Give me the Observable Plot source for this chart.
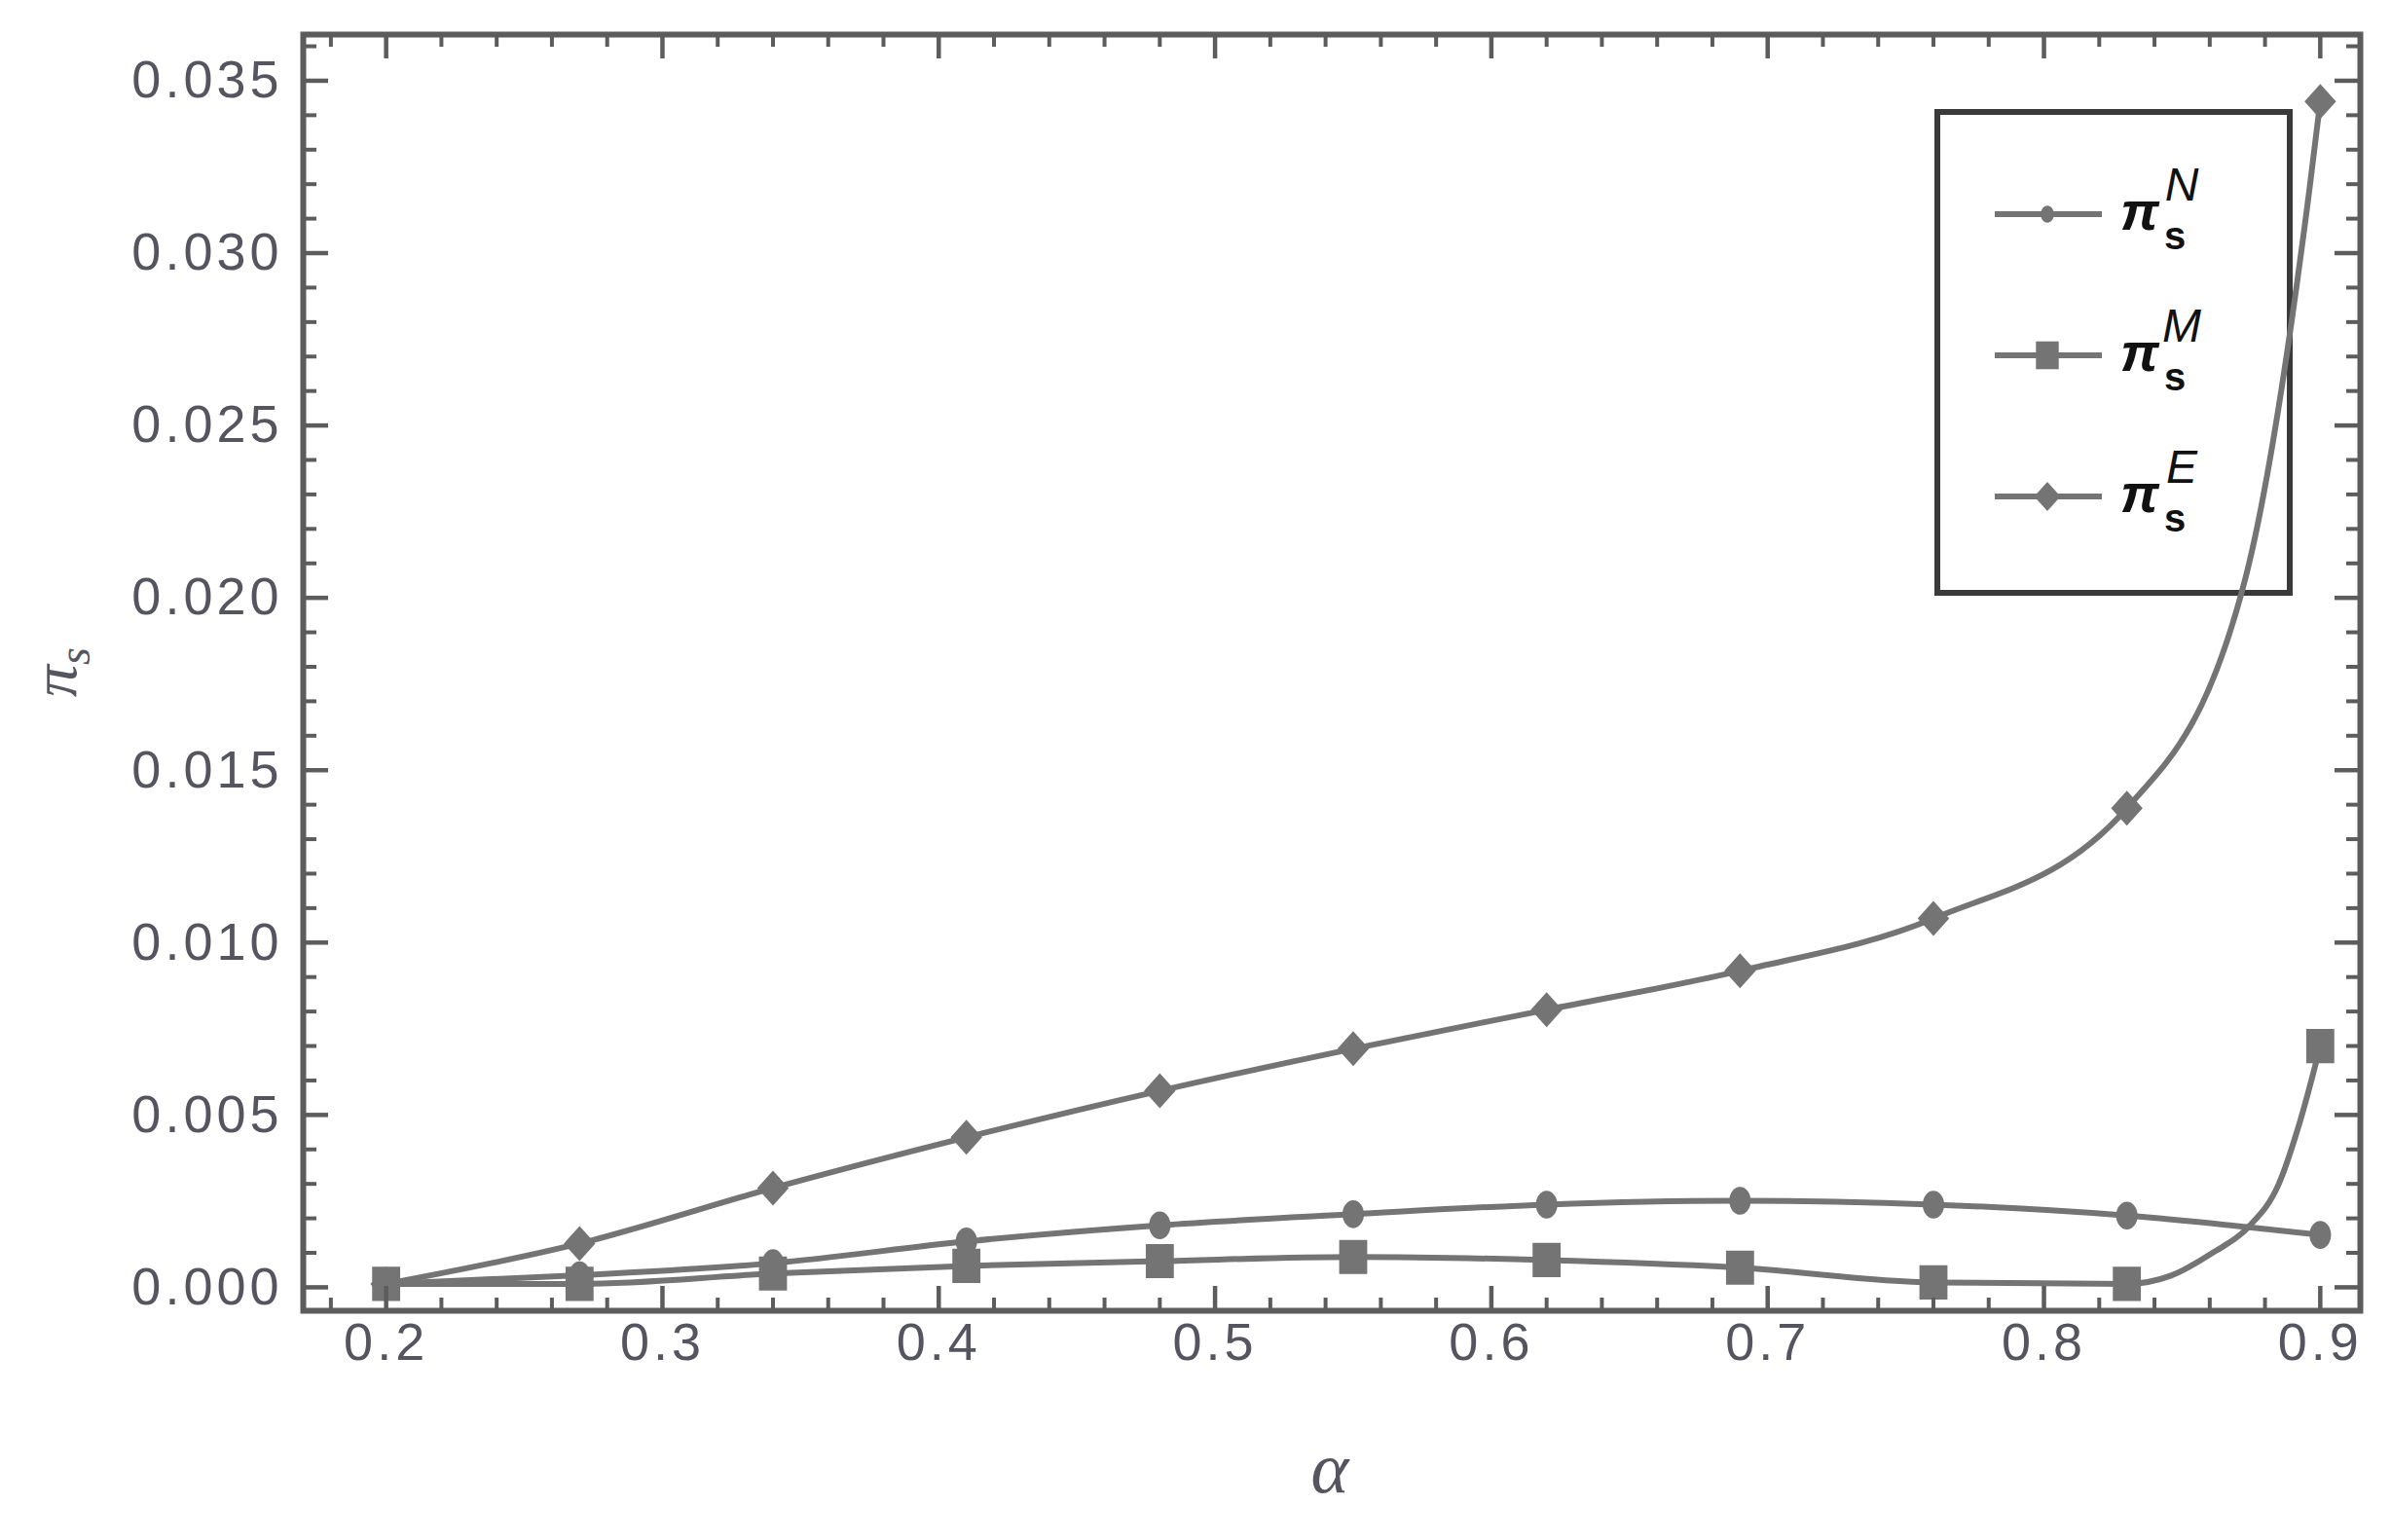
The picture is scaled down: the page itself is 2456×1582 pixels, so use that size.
<!DOCTYPE html>
<html><head><meta charset="utf-8">
<script src="https://cdn.jsdelivr.net/npm/d3@7"></script>
<script src="https://cdn.jsdelivr.net/npm/@observablehq/plot@0.6"></script>
<style>
html,body{margin:0;padding:0;background:#fff;}
#chart{position:relative;width:2456px;height:1582px;}
</style></head><body><div id="chart"></div>
<script>
// ---- data ----
const alpha = [0.2, 0.27, 0.34, 0.41, 0.48, 0.55, 0.62, 0.69, 0.76, 0.83, 0.9];
const piN = [0.0001, 0.00035, 0.0007, 0.00133, 0.0018, 0.00212, 0.0024, 0.00251, 0.0024, 0.00208, 0.00152];
const piM = [0.0001, 0.0001, 0.0004, 0.00062, 0.00076, 0.00088, 0.00079, 0.00057, 0.00014, 0.0001, 0.0070];
const piE = [0.0001, 0.00127, 0.00288, 0.00435, 0.0057, 0.00692, 0.00805, 0.00918, 0.0107, 0.0139, 0.0344];
// extra points read along the drawn curves where they turn steeply (no markers there)
const curveAlphaM = [0.846, 0.861, 0.874, 0.885, 0.893];
const curveValueM = [0.00034, 0.001, 0.00175, 0.003, 0.0049];
const curveAlphaE = [0.873, 0.896];
const curveValueE = [0.0206, 0.0318];

const seriesNames = ["N", "M", "E"];
const xTickLabels = [0.2, 0.3, 0.4, 0.5, 0.6, 0.7, 0.8, 0.9];
const yTickLabels = [0.000, 0.005, 0.010, 0.015, 0.020, 0.025, 0.030, 0.035];
const xMinor = d3.range(9, 46).filter(i => i % 5 !== 0).map(i => i * 0.02);
const yMinor = d3.range(1, 37).filter(i => i % 5 !== 0).map(i => i / 1000);

const seriesValues = {N: piN, M: piM, E: piE};
const curveExtras = {
  N: [],
  M: curveAlphaM.map((a, i) => ({alpha: a, value: curveValueM[i], series: "M"})),
  E: curveAlphaE.map((a, i) => ({alpha: a, value: curveValueE[i], series: "E"}))
};
const rows = seriesNames.flatMap(s => alpha.map((a, i) => ({alpha: a, value: seriesValues[s][i], series: s})));
const lineRows = seriesNames.flatMap(s =>
  rows.filter(d => d.series === s).concat(curveExtras[s]).sort((a, b) => a.alpha - b.alpha));

// ---- layout ----
const W = 2456, H = 1582, mL = 311, mR = 32, mT = 35, mB = 236;
const innerW = W - mL - mR, innerH = H - mT - mB;
const gray = "#747474", frameColor = "#5c5c5c", labelColor = "#555560";

function ellipsePath(ctx, rx, ry) {
  const k = 0.5523;
  ctx.moveTo(rx, 0);
  ctx.bezierCurveTo(rx, k * ry, k * rx, ry, 0, ry);
  ctx.bezierCurveTo(-k * rx, ry, -rx, k * ry, -rx, 0);
  ctx.bezierCurveTo(-rx, -k * ry, -k * rx, -ry, 0, -ry);
  ctx.bezierCurveTo(k * rx, -ry, rx, -k * ry, rx, 0);
  ctx.closePath();
}
const circleSym = {draw(ctx, size) { const r = Math.sqrt(size / Math.PI); ellipsePath(ctx, 0.85 * r, 1.1 * r); }};
const squareSym = {draw(ctx, size) { const r = Math.sqrt(size / Math.PI); const w = 0.9 * r, h = 1.1 * r; ctx.moveTo(-w, -h); ctx.lineTo(w, -h); ctx.lineTo(w, h); ctx.lineTo(-w, h); ctx.closePath(); }};
const diamondSym = {draw(ctx, size) { const r = Math.sqrt(size / Math.PI); const w = 0.9 * r, h = 1.0 * r; ctx.moveTo(0, -h); ctx.lineTo(w, 0); ctx.lineTo(0, h); ctx.lineTo(-w, 0); ctx.closePath(); }};
const symbols = {N: circleSym, M: squareSym, E: diamondSym};
const radii = {N: 13, M: 16, E: 18};

const chart = Plot.plot({
  width: W, height: H,
  marginLeft: mL, marginRight: mR, marginTop: mT, marginBottom: mB,
  x: {domain: [0.17, 0.9145], axis: null},
  y: {domain: [-0.00068, 0.03634], axis: null},
  style: {background: "#fff", fontFamily: "'Liberation Sans', Arial, sans-serif"},
  marks: [
    Plot.line(lineRows, {x: "alpha", y: "value", z: "series", stroke: gray, strokeWidth: 6, curve: "monotone-x"}),
    ...seriesNames.map(s => Plot.dot(rows.filter(d => d.series === s), {x: "alpha", y: "value", symbol: symbols[s], r: radii[s], fill: gray, stroke: "none"})),
    // inward ticks on all four sides
    Plot.tickX(xTickLabels, {x: d => d, insetTop: innerH - 25, stroke: frameColor, strokeWidth: 4.5}),
    Plot.tickX(xMinor, {x: d => d, insetTop: innerH - 13, stroke: frameColor, strokeWidth: 4}),
    Plot.tickX(xTickLabels, {x: d => d, insetBottom: innerH - 25, stroke: frameColor, strokeWidth: 4.5}),
    Plot.tickX(xMinor, {x: d => d, insetBottom: innerH - 13, stroke: frameColor, strokeWidth: 4}),
    Plot.tickY(yTickLabels, {y: d => d, insetRight: innerW - 26, stroke: frameColor, strokeWidth: 4.5}),
    Plot.tickY(yMinor, {y: d => d, insetRight: innerW - 14, stroke: frameColor, strokeWidth: 4}),
    Plot.tickY(yTickLabels, {y: d => d, insetLeft: innerW - 26, stroke: frameColor, strokeWidth: 4.5}),
    Plot.tickY(yMinor, {y: d => d, insetLeft: innerW - 14, stroke: frameColor, strokeWidth: 4}),
    Plot.frame({stroke: frameColor, strokeWidth: 6}),
    // tick labels
    Plot.text(xTickLabels, {x: d => d, frameAnchor: "bottom", dy: 50, text: d => d.toFixed(1), fontSize: 54, fill: labelColor}),
    Plot.text(yTickLabels, {y: d => d, frameAnchor: "left", dx: -21, textAnchor: "end", text: d => d.toFixed(3), fontSize: 54, fill: labelColor}),
    // x axis title
    Plot.text(["α"], {frameAnchor: "bottom", dy: 186, text: d => d, fontSize: 74, fontStyle: "italic", fill: labelColor, fontFamily: "'Liberation Serif', serif"})
  ]
});
document.getElementById("chart").appendChild(chart);

const svg = d3.select(chart);
svg.selectAll("text").style("letter-spacing", "4px");

// y axis title π_s (rotated)
const yt = svg.append("text")
  .attr("transform", `translate(78, ${mT + innerH / 2}) rotate(-90)`)
  .attr("text-anchor", "middle")
  .attr("font-family", "'Liberation Serif', serif")
  .attr("font-style", "italic")
  .attr("fill", labelColor)
  .attr("font-size", 66);
yt.append("tspan").text("π");
yt.append("tspan").attr("font-size", 46).attr("dy", 14).text("s");

// legend (drawn beneath the curves, like the reference)
const lg = svg.insert("g", "g");
lg.append("rect").attr("x", 1990).attr("y", 115).attr("width", 362).attr("height", 494)
  .attr("fill", "none").attr("stroke", "#3a3a3a").attr("stroke-width", 6);
const legendRadii = {N: 8, M: 13, E: 15};
seriesNames.forEach((s, i) => {
  const cy = 220 + i * 145;
  lg.append("line").attr("x1", 2049).attr("x2", 2159).attr("y1", cy).attr("y2", cy)
    .attr("stroke", gray).attr("stroke-width", 6);
  lg.append("path").attr("transform", `translate(2103, ${cy})`)
    .attr("d", d3.symbol(symbols[s], Math.PI * legendRadii[s] ** 2)())
    .attr("fill", gray);
  const t = lg.append("text").attr("font-family", "'Liberation Sans', Arial, sans-serif")
    .attr("fill", "#111");
  t.append("tspan").attr("x", 2198).attr("y", cy + 16).attr("font-size", 56).attr("font-style", "italic").attr("font-weight", "bold").text("π");
  t.append("tspan").attr("x", 2234).attr("y", cy + 36).attr("font-size", 40).attr("font-weight", "bold").text("s");
  t.append("tspan").attr("x", 2241).attr("y", cy - 14).attr("font-size", 48).attr("font-style", "italic").text(s);
});
</script>
</body></html>
